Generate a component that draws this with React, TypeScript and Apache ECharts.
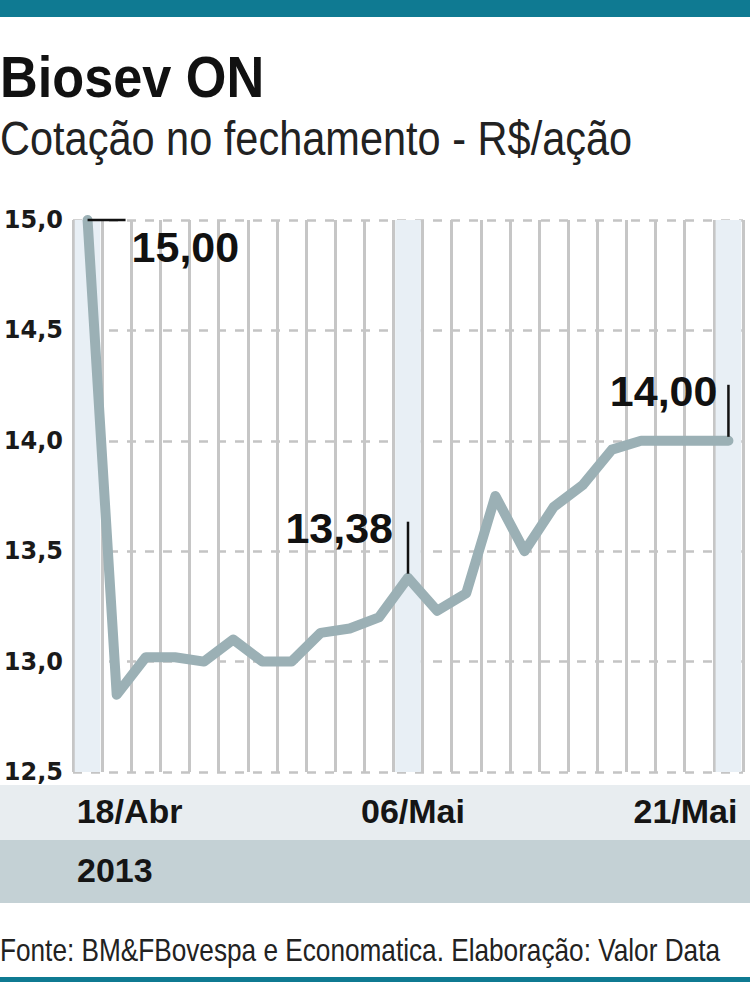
import React, { useEffect, useRef } from "react";
import * as echarts from "echarts";

const categories = [
  "18/Abr", "19/Abr", "22/Abr", "23/Abr", "24/Abr", "25/Abr", "26/Abr", "29/Abr", "30/Abr",
  "02/Mai", "03/Mai", "06/Mai", "07/Mai", "08/Mai", "09/Mai", "10/Mai", "13/Mai", "14/Mai",
  "15/Mai", "16/Mai", "17/Mai", "20/Mai", "21/Mai",
];
const closing = [
  15.0, 12.85, 13.02, 13.02, 13.0, 13.1, 13.0, 13.0, 13.13, 13.15, 13.2, 13.38, 13.23, 13.31,
  13.75, 13.5, 13.7, 13.8, 13.96, 14.0, 14.0, 14.0, 14.0,
];
const labeledDays = [0, 11, 22];
const shadedDays = [0, 11, 22];
const yMin = 12.5;
const yMax = 15.0;
const yStep = 0.5;

const TITLE = "Biosev ON";
const SUBTITLE = "Cotação no fechamento - R$/ação";
const YEAR = "2013";
const SOURCE = "Fonte: BM&FBovespa e Economatica. Elaboração: Valor Data";

const SANS = "'Liberation Sans', Arial, sans-serif";
const TEAL = "#0f7a92";

const fmt = (v: number, d: number) => v.toFixed(d).replace(".", ",");

export default function App() {
  const ref = useRef<HTMLDivElement>(null);
  useEffect(() => {
    if (!ref.current) return;
    const chart = echarts.init(ref.current, undefined, { renderer: "svg" });
    const lbl = { fontFamily: SANS, fontWeight: "bold", fontSize: 34, color: "#151515" };
    const option: any = {
      animation: false,
      backgroundColor: "#ffffff",
      grid: { left: 73, right: 7, top: 220, bottom: 210, containLabel: false },
      xAxis: {
        type: "category",
        data: categories,
        boundaryGap: true,
        axisLine: { show: false },
        axisTick: { show: false },
        splitLine: { show: true, interval: 0, lineStyle: { color: "#c6c6c6", width: 3 } },
        axisLabel: {
          interval: (i: number) => labeledDays.includes(i),
          margin: 39,
          verticalAlign: "middle",
          formatter: (v: string, i: number) =>
            i === 0 ? `{l|${v}}` : i === categories.length - 1 ? `{r|${v}}` : `{c|${v}}`,
          rich: {
            l: { ...lbl, padding: [0, 0, 0, 84] },
            c: { ...lbl, padding: [0, 0, 0, 10] },
            r: { ...lbl, padding: [0, 86, 0, 0] },
          },
        },
      },
      yAxis: {
        type: "value",
        min: yMin,
        max: yMax,
        interval: yStep,
        axisLine: { show: false },
        axisTick: { show: false },
        splitLine: { show: true, lineStyle: { color: "#c4c4c4", width: 2.5, type: [9, 9] } },
        axisLabel: {
          margin: 10,
          fontFamily: "'DejaVu Sans', sans-serif",
          fontWeight: "bold",
          fontSize: 24,
          color: "#1a1a1a",
          formatter: (v: number) => fmt(v, 1),
        },
      },
      series: [
        {
          type: "bar",
          data: categories.map((_, i) => (shadedDays.includes(i) ? yMax : null)),
          barWidth: "88%",
          itemStyle: { color: "#e8eff5" },
          silent: true,
          z: 1,
        },
        {
          type: "line",
          data: closing,
          showSymbol: false,
          symbol: "none",
          lineStyle: { color: "#9bb0b5", width: 10, join: "round", cap: "round" },
          z: 3,
        },
      ],
    };
    chart.setOption(option);

    const pts = labeledDays.map((i) => chart.convertToPixel({ seriesIndex: 1 }, [i, closing[i]]) as number[]);
    const ann: any[] = [];
    labeledDays.forEach((idx, k) => {
      const [px, py] = pts[k];
      const text = fmt(closing[idx], 2);
      const font = { fontFamily: SANS, fontWeight: "bold", fontSize: 43, fill: "#111" };
      if (k === 0) {
        ann.push({ type: "line", shape: { x1: px, y1: py, x2: px + 38, y2: py }, style: { stroke: "#111", lineWidth: 2.5 }, z: 10 });
        ann.push({ type: "text", x: px + 44, y: py + 27, style: { ...font, text, textAlign: "left", textVerticalAlign: "middle" }, z: 10 });
      } else {
        ann.push({ type: "line", shape: { x1: px, y1: py - 56, x2: px, y2: py - 4 }, style: { stroke: "#111", lineWidth: 2.5 }, z: 10 });
        const dx = k === 1 ? -15 : -11;
        ann.push({ type: "text", x: px + dx, y: py - 50, style: { ...font, text, textAlign: "right", textVerticalAlign: "middle" }, z: 10 });
      }
    });

    const statics: any[] = [
      { type: "rect", shape: { x: 0, y: 0, width: 750, height: 17 }, style: { fill: TEAL }, z: 0 },
      { type: "text", x: 0, y: 77, scaleX: 0.95, scaleY: 1.05, style: { text: TITLE, fontFamily: SANS, fontWeight: "bold", fontSize: 55, fill: "#111", textVerticalAlign: "middle" } },
      { type: "text", x: 0, y: 138, scaleX: 0.865, style: { text: SUBTITLE, fontFamily: SANS, fontSize: 48, fill: "#222", textVerticalAlign: "middle" } },
      { type: "rect", shape: { x: 0, y: 785, width: 750, height: 55 }, style: { fill: "#e8edf0" }, z: -1 },
      { type: "rect", shape: { x: 0, y: 840, width: 750, height: 63 }, style: { fill: "#c4d1d5" }, z: -1 },
      { type: "text", x: 77, y: 870, style: { text: YEAR, fontFamily: SANS, fontWeight: "bold", fontSize: 34, fill: "#151515", textVerticalAlign: "middle" } },
      { type: "text", x: 0, y: 950, scaleX: 0.845, style: { text: SOURCE, fontFamily: SANS, fontSize: 31, fill: "#222", textVerticalAlign: "middle" } },
      { type: "rect", shape: { x: 0, y: 977, width: 750, height: 5 }, style: { fill: TEAL } },
    ];
    chart.setOption({ graphic: [...statics, ...ann] });

    return () => chart.dispose();
  }, []);
  return <div ref={ref} style={{ position: "fixed", left: 0, top: 0, width: 750, height: 982 }} />;
}
